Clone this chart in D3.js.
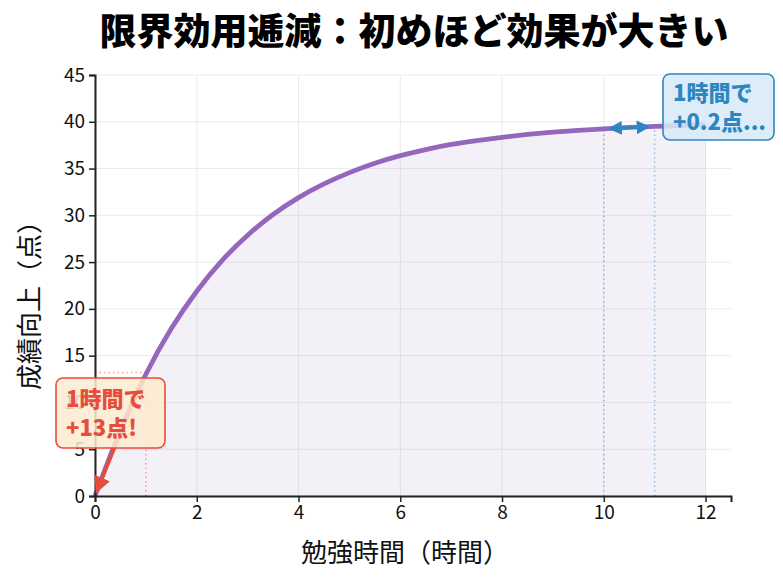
<!DOCTYPE html>
<html><head><meta charset="utf-8">
<script src="https://cdn.jsdelivr.net/npm/d3@7"></script>
<style>body{margin:0;background:#fff}svg{display:block;font-family:"Noto Sans CJK JP","Noto Sans",sans-serif}</style>
</head><body><svg id="c" width="783" height="584"></svg>
<script>
const hours = [0,0.5,1,1.5,2,2.5,3,3.5,4,4.5,5,5.5,6,6.5,7,7.5,8,8.5,9,9.5,10,10.5,11,11.5,12];
const scores = [0,7.25,13.2,18.05,22.0,25.3,27.95,30.15,31.95,33.4,34.6,35.6,36.4,37.05,37.6,38.0,38.35,38.65,38.9,39.1,39.25,39.4,39.5,39.6,39.7];
const xTicks = [0,2,4,6,8,10,12];
const yTicks = [0,5,10,15,20,25,30,35,40,45];
const title = "限界効用逓減：初めほど効果が大きい";
const xLabel = "勉強時間（時間）";
const yLabel = "成績向上（点）";
const earlyNote = ["1時間で","+13点!"];
const lateNote = ["1時間で","+0.2点..."];
const earlyHour = [0,1], earlyGain = [0,13.2];
const lateHour = [10,11], lateGain = [39.25,39.5];

const svg = d3.select("#c");
const m = {l:95,r:52,t:75,b:88};
const W = 783, H = 584;
const x = d3.scaleLinear().domain([0,12.5]).range([m.l, W-m.r]);
const y = d3.scaleLinear().domain([0,45]).range([H-m.b, m.t]);
const data = hours.map((h,i)=>({h, s:scores[i]}));

// grid
const g = svg.append("g");
g.selectAll(".gx").data(xTicks).join("line").attr("x1",d=>x(d)).attr("x2",d=>x(d))
  .attr("y1",y(0)).attr("y2",y(45)).attr("stroke","#ebebeb").attr("stroke-width",1);
g.selectAll(".gy").data(yTicks).join("line").attr("y1",d=>y(d)).attr("y2",d=>y(d))
  .attr("x1",x(0)).attr("x2",x(12.5)).attr("stroke","#ebebeb").attr("stroke-width",1);

// fill
svg.append("path").datum(data)
  .attr("d", d3.area().x(d=>x(d.h)).y0(y(0)).y1(d=>y(d.s)).curve(d3.curveBasis))
  .attr("fill","#9467bd").attr("fill-opacity",0.1);

// dotted guides
const red="#e74c3c", blue="#2e86c1";
svg.append("line").attr("x1",x(earlyHour[1])).attr("x2",x(earlyHour[1])).attr("y1",y(0)).attr("y2",y(earlyGain[1]))
  .attr("stroke",red).attr("stroke-opacity",0.5).attr("stroke-width",1.5).attr("stroke-dasharray","1.5,3");
svg.append("line").attr("x1",x(0)).attr("x2",x(earlyHour[1])).attr("y1",y(earlyGain[1])).attr("y2",y(earlyGain[1]))
  .attr("stroke",red).attr("stroke-opacity",0.5).attr("stroke-width",1.5).attr("stroke-dasharray","1.5,3");
lateHour.forEach((h,i)=>{
  svg.append("line").attr("x1",x(h)).attr("x2",x(h)).attr("y1",y(0)).attr("y2",y(lateGain[i]))
    .attr("stroke",blue).attr("stroke-opacity",0.45).attr("stroke-width",1.5).attr("stroke-dasharray","1.5,3");
});

// curve
svg.append("path").datum(data)
  .attr("d", d3.line().x(d=>x(d.h)).y(d=>y(d.s)).curve(d3.curveBasis))
  .attr("fill","none").attr("stroke","#9467bd").attr("stroke-width",4.8);

// axes
const xa = svg.append("g").attr("transform",`translate(0,${y(0)})`)
  .call(d3.axisBottom(x).tickValues(xTicks).tickSize(6).tickPadding(4).tickFormat(d3.format("d")));
const ya = svg.append("g").attr("transform",`translate(${x(0)},0)`)
  .call(d3.axisLeft(y).tickValues(yTicks).tickSize(6).tickPadding(4).tickFormat(d3.format("d")));
[xa,ya].forEach(a=>{
  a.select(".domain").attr("stroke","#222").attr("stroke-width",2);
  a.selectAll(".tick line").attr("stroke","#222").attr("stroke-width",1.5);
  a.selectAll(".tick text").attr("fill","#111").style("font-size","19px").style("font-family","'Noto Sans CJK JP',sans-serif");
});

// defs arrows
const defs = svg.append("defs");
function marker(id,color,orient,size){
  defs.append("marker").attr("id",id).attr("viewBox","0 0 10 10").attr("refX",8).attr("refY",5)
    .attr("markerWidth",size).attr("markerHeight",size).attr("orient",orient).attr("markerUnits","strokeWidth")
    .append("path").attr("d","M0,0 L10,5 L0,10 Z").attr("fill",color);
}
marker("ra",red,"auto",4.8);
marker("ba",blue,"auto",4.6);
marker("bs",blue,"auto-start-reverse",4.6);

// red arrow
svg.append("line").attr("x1",x(0.95)).attr("y1",y(12.6)).attr("x2",x(0.04)).attr("y2",y(0.6))
  .attr("stroke",red).attr("stroke-width",3.5).attr("marker-end","url(#ra)");
// blue double arrow
svg.append("line").attr("x1",x(lateHour[0])+7).attr("y1",y(39.3)).attr("x2",x(lateHour[1])-7).attr("y2",y(39.45))
  .attr("stroke",blue).attr("stroke-width",3).attr("marker-end","url(#ba)").attr("marker-start","url(#bs)");

// label boxes
function box(x0,y0,w,h,lines,color,fill){
  const gg = svg.append("g");
  gg.append("rect").attr("x",x0).attr("y",y0).attr("width",w).attr("height",h).attr("rx",7)
    .attr("fill",fill).attr("fill-opacity",0.85).attr("stroke",color).attr("stroke-width",1.6);
  const cy = y0+h/2;
  lines.forEach((t,i)=>{
    gg.append("text").attr("x",x0+10).attr("y",cy+(i-0.5)*29+8)
      .attr("fill",color).style("font-size","22px").style("font-weight","900").text(t);
  });
}
box(56, 378, 109, 70, earlyNote, red, "#fdebd0");
box(663, 74, 111, 66, lateNote, blue, "#d6eaf8");

// title & labels
svg.append("text").attr("x",414).attr("y",45).attr("text-anchor","middle")
  .style("font-size","37px").style("font-weight","900").attr("fill","#000").text(title);
svg.append("text").attr("x",405).attr("y",562).attr("text-anchor","middle")
  .style("font-size","26px").attr("fill","#111").text(xLabel);
svg.append("text").attr("transform",`translate(39,299) rotate(-90)`).attr("text-anchor","middle")
  .style("font-size","26px").attr("fill","#111").text(yLabel);
</script></body></html>
